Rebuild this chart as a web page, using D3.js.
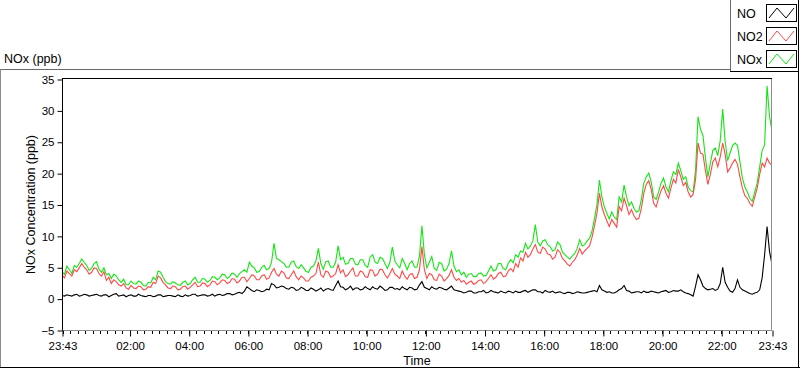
<!DOCTYPE html>
<html><head><meta charset="utf-8">
<script src="https://cdn.jsdelivr.net/npm/d3@7"></script>
<style>
body{margin:0;background:#fff}
svg{display:block}
text{font-family:"Liberation Sans",Arial,sans-serif;fill:#000}
</style>
</head><body>
<svg id="c" width="800" height="369"></svg>
<script>
// ---- data (5-minute samples) ----
const startTime = "2000-01-01T23:43";
const endTime = "2000-01-02T23:43";
const stepMinutes = 5;
const seriesNames = ["NO", "NO2", "NOx"];
const seriesColors = ["#000000", "#ff4848", "#14e614"];

const NO = [
  0.5,0.4,0.6,0.5,0.4,0.6,0.7,0.4,0.5,0.7,0.6,0.4,0.5,0.6,0.7,0.5,0.4,0.6,0.6,0.3,
  0.5,0.7,0.8,0.4,0.5,0.6,0.3,0.5,0.6,0.4,0.4,0.7,0.5,0.4,0.3,0.5,0.5,0.3,0.4,0.6,
  0.6,0.3,0.4,0.5,0.5,0.4,0.3,0.6,0.4,0.3,0.6,0.4,0.5,0.7,0.7,0.4,0.5,0.6,0.6,0.4,
  0.5,0.7,0.4,0.6,0.7,0.5,0.6,0.8,0.8,0.6,0.7,0.9,1.0,0.8,1.2,1.9,1.6,1.3,1.1,1.4,
  1.3,1.1,1.2,1.5,1.4,2.4,2.2,1.7,1.8,2.0,1.9,1.6,1.5,1.8,1.7,1.3,1.4,1.8,1.6,1.3,
  1.3,1.7,1.5,1.2,1.4,1.7,1.2,1.5,1.6,1.4,1.3,2.1,2.8,1.9,1.8,1.4,1.6,2.0,1.4,1.7,
  1.7,1.4,1.5,1.9,1.6,1.4,1.9,1.6,1.5,2.0,1.7,1.3,1.4,1.8,1.8,1.5,1.6,1.4,1.9,1.6,
  1.4,1.8,1.7,1.4,1.5,2.2,2.7,1.8,1.6,1.4,1.9,1.6,1.5,1.8,1.7,1.5,1.4,1.7,2.0,1.4,
  1.3,1.2,1.1,0.9,1.0,1.2,1.2,0.9,0.9,1.1,1.1,1.3,0.9,1.0,1.3,1.1,1.0,0.9,1.2,1.0,
  0.9,1.2,1.1,0.9,1.2,1.0,1.0,1.2,1.3,1.0,1.2,1.4,1.4,1.1,1.1,0.9,1.3,1.1,1.0,1.2,
  0.9,1.0,1.1,0.9,0.8,1.0,1.0,0.8,0.9,1.1,1.0,0.9,0.9,1.0,1.1,1.2,1.3,1.1,2.1,1.4,
  1.2,1.0,1.1,0.9,0.9,1.1,1.4,1.6,2.1,1.3,1.2,0.9,1.0,1.1,1.1,0.9,1.2,1.0,1.0,1.2,
  1.1,1.0,0.9,1.1,1.2,1.3,1.0,1.1,1.3,1.2,1.2,1.4,1.1,0.9,0.8,0.6,0.4,2.0,3.8,3.0,
  2.0,1.6,1.4,1.5,1.6,1.3,1.5,2.4,5.0,2.6,1.8,1.2,1.0,1.6,3.0,1.8,1.4,1.2,1.0,0.8,
  0.7,0.9,1.0,1.4,3.3,7.0,11.5,7.5,5.5
];
const NO2 = [
  3.8,3.3,4.4,4.0,3.6,4.6,4.3,4.9,5.6,5.0,4.6,3.9,4.2,4.9,4.8,4.0,3.6,4.3,2.9,3.4,
  2.4,3.0,2.7,2.2,2.0,2.4,1.7,1.5,2.1,1.7,1.6,2.0,1.9,1.4,1.5,1.9,1.8,2.6,2.4,3.6,
  3.3,2.6,2.2,1.7,1.6,2.0,1.9,1.4,1.5,1.9,2.0,1.5,1.8,2.2,2.6,1.9,2.0,2.5,2.4,1.9,
  2.2,2.8,2.7,2.2,2.5,3.0,2.9,2.4,2.6,3.2,3.1,2.5,2.8,3.4,3.4,2.7,3.2,3.8,3.6,3.0,
  3.0,3.6,3.8,3.1,3.3,4.2,4.8,3.9,3.6,4.4,4.1,3.3,3.2,3.8,4.4,3.5,3.0,3.6,3.3,2.8,
  2.8,3.4,3.6,4.0,5.8,3.8,3.4,4.4,4.2,3.4,3.6,4.0,5.4,4.1,4.6,3.5,3.8,4.4,4.9,3.6,
  3.6,4.4,4.2,3.5,3.4,4.6,4.5,3.6,3.9,4.7,4.6,3.8,3.3,4.0,4.8,3.9,3.6,3.2,4.4,3.6,
  3.1,3.8,4.0,3.2,3.4,4.6,8.3,4.6,3.2,4.0,3.8,3.0,2.9,3.9,3.6,2.8,3.2,3.7,4.6,3.4,
  2.9,3.2,2.6,2.9,2.3,2.6,2.8,2.3,2.5,2.9,3.0,2.4,2.7,3.2,3.8,3.1,3.4,4.0,4.2,3.5,
  3.6,4.4,4.8,4.3,5.6,5.0,6.5,6.0,7.4,6.6,7.0,7.9,8.6,7.4,7.2,8.2,7.9,7.1,7.0,6.3,
  6.6,7.8,7.4,6.4,6.0,5.5,5.2,5.8,6.2,7.0,8.0,7.1,7.6,8.0,8.4,9.8,11.6,13.6,16.8,14.6,
  13.4,12.4,11.5,12.6,12.0,11.4,14.7,14.0,16.0,14.8,13.4,14.2,13.2,12.6,12.8,14.4,16.8,18.2,18.8,17.4,
  15.2,14.6,16.0,17.2,18.0,16.8,16.0,17.6,19.0,18.4,20.6,19.4,18.0,18.5,17.0,16.2,16.6,19.0,24.8,23.2,
  23.0,20.4,18.2,19.8,21.8,22.4,21.0,22.6,24.8,23.0,20.2,20.8,21.6,22.2,21.4,19.4,17.6,16.4,16.0,15.2,
  14.7,16.2,17.6,19.8,21.6,21.0,22.4,21.6,21.3
];
const NOx = [
  4.3,3.9,5.2,4.6,4.0,5.3,5.0,5.6,6.3,5.8,5.3,4.5,4.8,5.6,5.9,4.7,4.2,4.9,3.8,4.0,
  3.2,3.9,3.6,3.0,2.6,3.1,2.2,2.2,2.8,2.4,2.3,2.8,2.6,2.1,2.0,2.6,2.5,3.4,3.0,4.4,
  4.2,3.4,2.7,2.4,2.3,2.7,2.5,2.2,2.1,2.6,2.8,2.2,2.4,3.0,3.4,2.6,2.6,3.2,3.1,2.6,
  2.9,3.5,3.4,3.0,3.3,3.9,3.8,3.2,3.5,4.1,3.9,3.4,4.0,4.3,4.6,4.2,5.8,5.2,4.9,4.2,
  4.3,5.0,5.3,4.6,4.8,5.8,8.8,6.4,6.2,5.9,5.6,5.0,5.0,5.8,6.0,5.1,4.8,5.4,4.9,4.3,
  4.2,5.0,5.2,6.0,8.0,5.6,4.7,5.9,6.0,5.0,5.0,5.8,8.4,6.2,6.6,5.5,5.6,6.4,6.4,5.5,
  5.4,6.2,6.2,5.3,5.0,6.6,7.0,5.8,5.6,6.6,6.4,5.6,4.8,5.8,8.2,6.0,5.4,4.9,6.4,5.6,
  4.6,5.6,6.0,5.0,5.0,6.8,11.6,7.0,4.9,5.8,6.7,4.8,4.5,5.8,5.6,4.4,4.7,5.6,7.6,5.2,
  4.3,4.6,3.8,4.2,3.4,3.9,4.0,3.5,3.5,4.0,4.1,3.6,3.7,4.4,5.2,4.4,4.6,5.6,5.6,4.8,
  4.6,5.6,6.2,5.7,7.0,6.6,7.6,7.4,8.8,7.9,8.4,9.2,11.8,9.0,8.4,9.2,9.4,8.6,8.3,7.6,
  7.8,9.0,8.6,7.4,7.0,6.6,6.3,6.8,7.2,8.0,9.4,8.4,8.6,9.2,9.6,10.8,12.8,15.0,18.9,16.2,
  14.6,13.6,12.7,13.8,13.0,12.6,16.2,15.4,18.1,16.2,14.8,15.4,14.4,13.8,14.0,15.8,18.4,19.4,20.0,18.6,
  16.2,15.8,17.0,18.4,19.2,17.8,17.0,18.8,20.2,19.8,21.6,20.4,19.0,19.4,17.8,17.2,17.0,20.5,29.0,27.0,
  26.0,22.4,19.4,21.6,23.6,24.0,22.8,25.2,30.2,25.0,22.0,23.2,24.4,24.8,24.4,21.8,19.2,17.8,17.0,16.0,
  15.5,17.0,18.4,21.0,23.6,24.5,33.9,29.0,26.8
];
const yTicks = [-5, 0, 5, 10, 15, 20, 25, 30, 35];
const xTickTimes = ["2000-01-01T23:43","2000-01-02T02:00","2000-01-02T04:00","2000-01-02T06:00",
  "2000-01-02T08:00","2000-01-02T10:00","2000-01-02T12:00","2000-01-02T14:00","2000-01-02T16:00",
  "2000-01-02T18:00","2000-01-02T20:00","2000-01-02T22:00","2000-01-02T23:43"];
const xTickLabels = ["23:43","02:00","04:00","06:00","08:00","10:00","12:00","14:00","16:00",
  "18:00","20:00","22:00","23:43"];
const titleText = "NOx (ppb)";
const yLabel = "NOx Concentration (ppb)";
const xLabel = "Time";

// ---- drawing ----
const svg = d3.select("#c");
const L = 62, R = 772, T = 79, B = 330;
const t0 = new Date(startTime), t1 = new Date(endTime);
const x = d3.scaleTime().domain([t0, t1]).range([L, R]);
const y = d3.scaleLinear().domain([-5, 35]).range([B, T]);

// outer panel frame
svg.append("line").attr("x1",0).attr("x2",731).attr("y1",69.5).attr("y2",69.5).attr("stroke","#6a6a6a");
svg.append("line").attr("x1",0.5).attr("x2",0.5).attr("y1",69).attr("y2",368).attr("stroke","#8a8a8a");
svg.append("line").attr("x1",0).attr("x2",800).attr("y1",367.5).attr("y2",367.5).attr("stroke","#000");
svg.append("line").attr("x1",798.5).attr("x2",798.5).attr("y1",69).attr("y2",368).attr("stroke","#000");

svg.append("text").attr("x",4).attr("y",63).attr("font-size",12.5).text(titleText);

// plot frame
svg.append("line").attr("x1",R-0.5).attr("x2",R-0.5).attr("y1",T).attr("y2",B+1).attr("stroke","#8c8c8c");
svg.append("line").attr("x1",L).attr("x2",R).attr("y1",B+0.5).attr("y2",B+0.5).attr("stroke","#8c8c8c");
svg.append("line").attr("x1",L).attr("x2",R).attr("y1",T-0.5).attr("y2",T-0.5).attr("stroke","#000");

// series
const times = NO.map((_, i) => d3.timeMinute.offset(t0, i * stepMinutes));
svg.append("clipPath").attr("id","pc").append("rect")
  .attr("x",L+1).attr("y",T).attr("width",R-L-2).attr("height",B-T);
const line = d3.line().x((d,i)=>x(times[i])).y(d=>y(d));
const g = svg.append("g").attr("clip-path","url(#pc)");
[[NOx,2],[NO2,1],[NO,0]].forEach(([arr,k])=>{
  g.append("path").attr("d", line(arr)).attr("fill","none")
    .attr("stroke", seriesColors[k]).attr("stroke-width", 1.1);
});

// y axis
const yAxis = d3.axisLeft(y).tickValues(yTicks).tickSize(5).tickPadding(3).tickFormat(d3.format("d"));
const ya = svg.append("g").attr("transform",`translate(${L+0.5},0.5)`).call(yAxis);
ya.select(".domain").attr("d",`M0,${T-1}V${B}`).attr("stroke","#000");
ya.selectAll("text").attr("font-size",11.5).style("font-family","'Liberation Sans',Arial,sans-serif");

// x axis minor ticks
const minor = d3.timeMinute.every(15).range(t0, t1);
svg.append("g").selectAll("line").data(minor).join("line")
  .attr("x1",d=>Math.round(x(d))+0.5).attr("x2",d=>Math.round(x(d))+0.5)
  .attr("y1",B+1).attr("y2",B+4).attr("stroke","#000");
// x axis major ticks
const majors = xTickTimes.map(s=>new Date(s));
const xAxis = d3.axisBottom(x).tickValues(majors).tickSize(6).tickPadding(5)
  .tickFormat((d,i)=>xTickLabels[i]);
const xa = svg.append("g").attr("transform",`translate(0.5,${B+0.5})`).call(xAxis);
xa.select(".domain").remove();
xa.selectAll("text").attr("font-size",11.5).style("font-family","'Liberation Sans',Arial,sans-serif");

svg.append("text").attr("x",(L+R)/2).attr("y",365).attr("text-anchor","middle").attr("font-size",12.5).text(xLabel);
svg.append("text").attr("transform",`translate(35,${(T+B)/2}) rotate(-90)`).attr("text-anchor","middle")
  .attr("font-size",12.5).text(yLabel);

// legend
const lg = svg.append("g");
lg.append("rect").attr("x",730.5).attr("y",0.5).attr("width",68).attr("height",71).attr("fill","#fff").attr("stroke","none");
lg.append("line").attr("x1",730.5).attr("x2",730.5).attr("y1",0).attr("y2",72).attr("stroke","#6a6a6a");
lg.append("line").attr("x1",730).attr("x2",799).attr("y1",71.5).attr("y2",71.5).attr("stroke","#000");
lg.append("line").attr("x1",798.5).attr("x2",798.5).attr("y1",0).attr("y2",72).attr("stroke","#000");
const zig = d3.line();
seriesNames.forEach((nm,k)=>{
  const top = 4 + k*23;
  lg.append("text").attr("x",737).attr("y",top+14).attr("font-size",12.5).text(nm);
  lg.append("rect").attr("x",766.5).attr("y",top+0.5).attr("width",30).attr("height",17)
    .attr("fill","#fff").attr("stroke","#000");
  lg.append("path").attr("d", zig([[769,top+14],[777,top+4],[786,top+14],[794,top+4]]))
    .attr("fill","none").attr("stroke",seriesColors[k]).attr("stroke-width",1);
});
</script>
</body></html>
